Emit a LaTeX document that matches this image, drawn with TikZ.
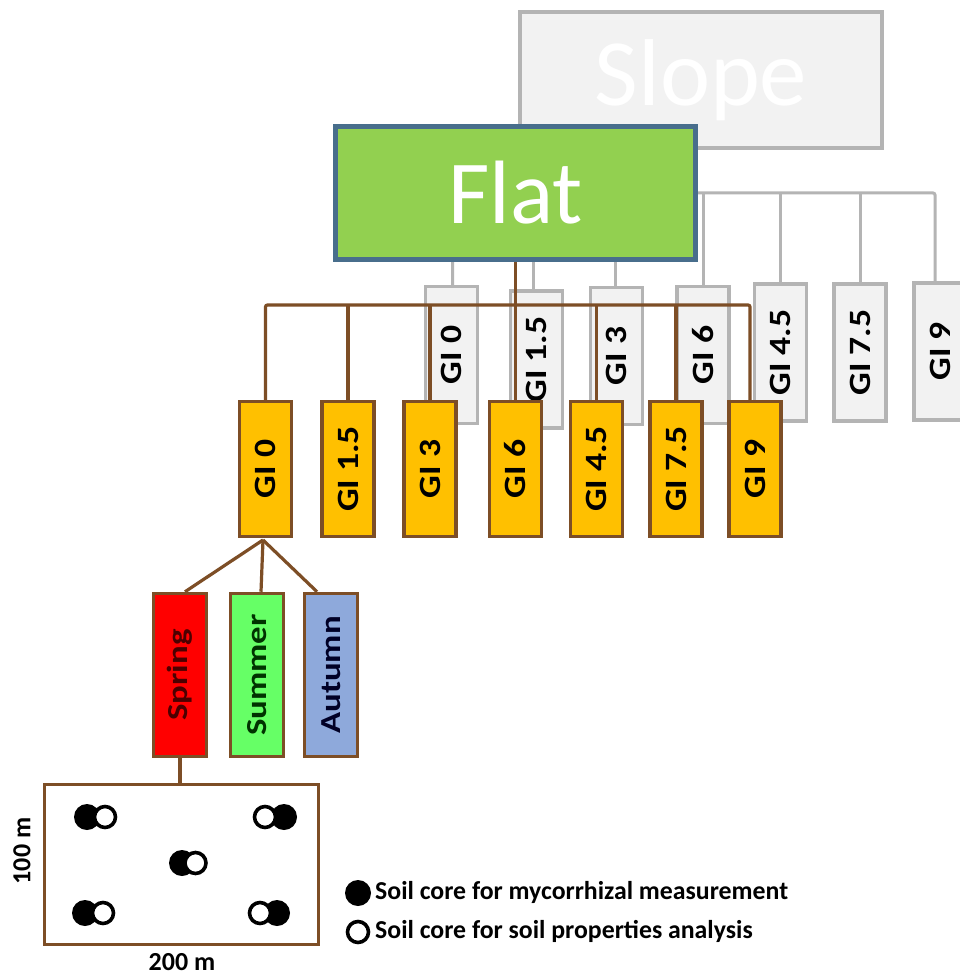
\documentclass[tikz,border=0pt]{standalone}
\usepackage{fontspec}
\setmainfont{Carlito}
\usepackage{graphicx}
\definecolor{brownc}{RGB}{125,78,38}
\definecolor{greyc}{RGB}{180,180,180}
\definecolor{greyfill}{RGB}{242,242,242}
\definecolor{orangec}{RGB}{255,192,0}
\definecolor{flatfill}{RGB}{146,208,80}
\definecolor{flatborder}{RGB}{72,110,140}
\definecolor{springc}{RGB}{255,0,0}
\definecolor{summerc}{RGB}{102,255,102}
\definecolor{autumnc}{RGB}{142,169,219}
\newcommand{\gilabel}[1]{\rotatebox{90}{\scalebox{1.15}[1]{\fontsize{31}{34}\selectfont\bfseries #1}}}
\newcommand{\seasonlabel}[2]{\rotatebox{90}{\scalebox{1.2}[1]{\fontsize{29}{32}\selectfont\bfseries\color{#1}#2}}}
\tikzset{
  gbox/.style={draw=greyc, line width=3.5pt, fill=greyfill, minimum width=52pt, minimum height=137pt, inner sep=0pt},
  obox/.style={draw=brownc, line width=3.5pt, fill=orangec, minimum width=52pt, minimum height=135pt, inner sep=0pt},
  seasonbox/.style={draw=brownc, line width=3.5pt, minimum width=53pt, minimum height=163pt, inner sep=0pt},
  gline/.style={draw=greyc, line width=3pt, rounded corners=2pt},
  bline/.style={draw=brownc, line width=3.2pt, rounded corners=2pt},
  blackdot/.style={circle, fill=black, minimum size=26pt, inner sep=0pt},
  whitedot/.style={circle, draw=black, fill=white, line width=3.6pt, minimum size=21pt, inner sep=0pt},
  measure/.style={font=\fontsize{26}{30}\selectfont\bfseries, inner sep=0pt},
  legendtext/.style={anchor=west, font=\fontsize{25.8}{30}\selectfont\bfseries, inner sep=0pt}
}
\begin{document}
\begin{tikzpicture}[x=1pt,y=-1pt]
\useasboundingbox[fill=white] (0,0) rectangle (959,976);
% Slope tree (background)
\node[draw=greyc, line width=4pt, fill=greyfill, minimum width=362pt, minimum height=136pt, inner sep=0pt,
      font=\fontsize{95}{100}\selectfont, text=white] (slope) at (701,80) {Slope};
\coordinate (gbus) at (0,193);
\node[gbox] (g0) at (451.5,355) {\gilabel{GI 0}};
\node[gbox] (g15) at (536.5,359.5) {\gilabel{GI 1.5}};
\node[gbox] (g3) at (616.5,356) {\gilabel{GI 3}};
\node[gbox] (g6) at (703,355) {\gilabel{GI 6}};
\node[gbox] (g45) at (780.5,352.5) {\gilabel{GI 4.5}};
\node[gbox] (g75) at (860,352.5) {\gilabel{GI 7.5}};
\node[gbox] (g9) at (940,351.5) {\gilabel{GI 9}};
\draw[gline] ([xshift=1pt]g0.north) |- ([xshift=-5pt]g9.north |- gbus) -- ([xshift=-5pt]g9.north);
\draw[gline] ([xshift=-3.5pt]g15.north) -- ([xshift=-3.5pt]g15.north |- gbus);
\draw[gline] ([xshift=-1.5pt]g3.north) -- ([xshift=-1.5pt]g3.north |- gbus);
\draw[gline] (g6.north) -- (g6.north |- gbus);
\draw[gline] (g45.north) -- (g45.north |- gbus);
\draw[gline] (g75.north) -- (g75.north |- gbus);
% Flat tree
\node[draw=flatborder, line width=5pt, fill=flatfill, minimum width=360pt, minimum height=133pt, inner sep=0pt,
      font=\fontsize{90}{96}\selectfont, text=white] (flat) at (515.5,193) {Flat};
\coordinate (bbus) at (0,305);
\node[obox] (o0) at (265.5,469) {\gilabel{GI 0}};
\node[obox] (o15) at (348,469) {\gilabel{GI 1.5}};
\node[obox] (o3) at (430,469) {\gilabel{GI 3}};
\node[obox] (o6) at (515.5,469) {\gilabel{GI 6}};
\node[obox] (o45) at (596.5,469) {\gilabel{GI 4.5}};
\node[obox] (o75) at (676,469) {\gilabel{GI 7.5}};
\node[obox] (o9) at (755,469) {\gilabel{GI 9}};
\draw[bline] (o0.north) |- ([xshift=-5pt]o9.north |- bbus) -- ([xshift=-5pt]o9.north);
\draw[bline] (o15.north) -- (o15.north |- bbus);
\draw[bline] (o3.north) -- (o3.north |- bbus);
\draw[bline] (o45.north) -- (o45.north |- bbus);
\draw[bline] (o75.north) -- (o75.north |- bbus);
\draw[bline] (flat.south -| o6.north) -- (o6.north);
% seasons
\node[seasonbox, fill=springc] (spring) at (180,675) {\seasonlabel{black!70!red}{Spring}};
\node[seasonbox, fill=summerc] (summer) at (257,675) {\seasonlabel{black!80!green}{Summer}};
\node[seasonbox, fill=autumnc] (autumn) at (331,675) {\seasonlabel{black!85!blue}{Autumn}};
\coordinate (apex) at (263,540);
\draw[bline] (apex) -- ([xshift=5pt]spring.north);
\draw[bline] (apex) -- ([xshift=4pt]summer.north);
\draw[bline] (apex) -- ([xshift=-14pt]autumn.north);
% plot
\node[draw=brownc, line width=3.5pt, fill=white, minimum width=274pt, minimum height=160pt, inner sep=0pt] (plot) at (181.5,864.5) {};
\draw[bline] (spring.south) -- (spring.south |- plot.north);
\node[blackdot] (b1) at (87,817) {};
\node[whitedot] (w1) at (105,817) {};
\node[blackdot] (b2) at (284,817) {};
\node[whitedot] (w2) at (265,817) {};
\node[blackdot] (b3) at (182,863) {};
\node[whitedot] (w3) at (195.5,863) {};
\node[blackdot] (b4) at (85,913) {};
\node[whitedot] (w4) at (103,913) {};
\node[blackdot] (b5) at (277,913) {};
\node[whitedot] (w5) at (260,913) {};
\node[measure, rotate=90] (h100) at (22,851) {100 m};
\node[measure] (w200) at (182,962) {200 m};
% legend
\node[blackdot, minimum size=26pt] (lb) at (358,893) {};
\node[whitedot, minimum size=21pt] (lw) at (358,932) {};
\node[legendtext] (lt1) at (375,892) {Soil core for mycorrhizal measurement};
\node[legendtext] (lt2) at (375,931) {Soil core for soil properties analysis};
\end{tikzpicture}
\end{document}
